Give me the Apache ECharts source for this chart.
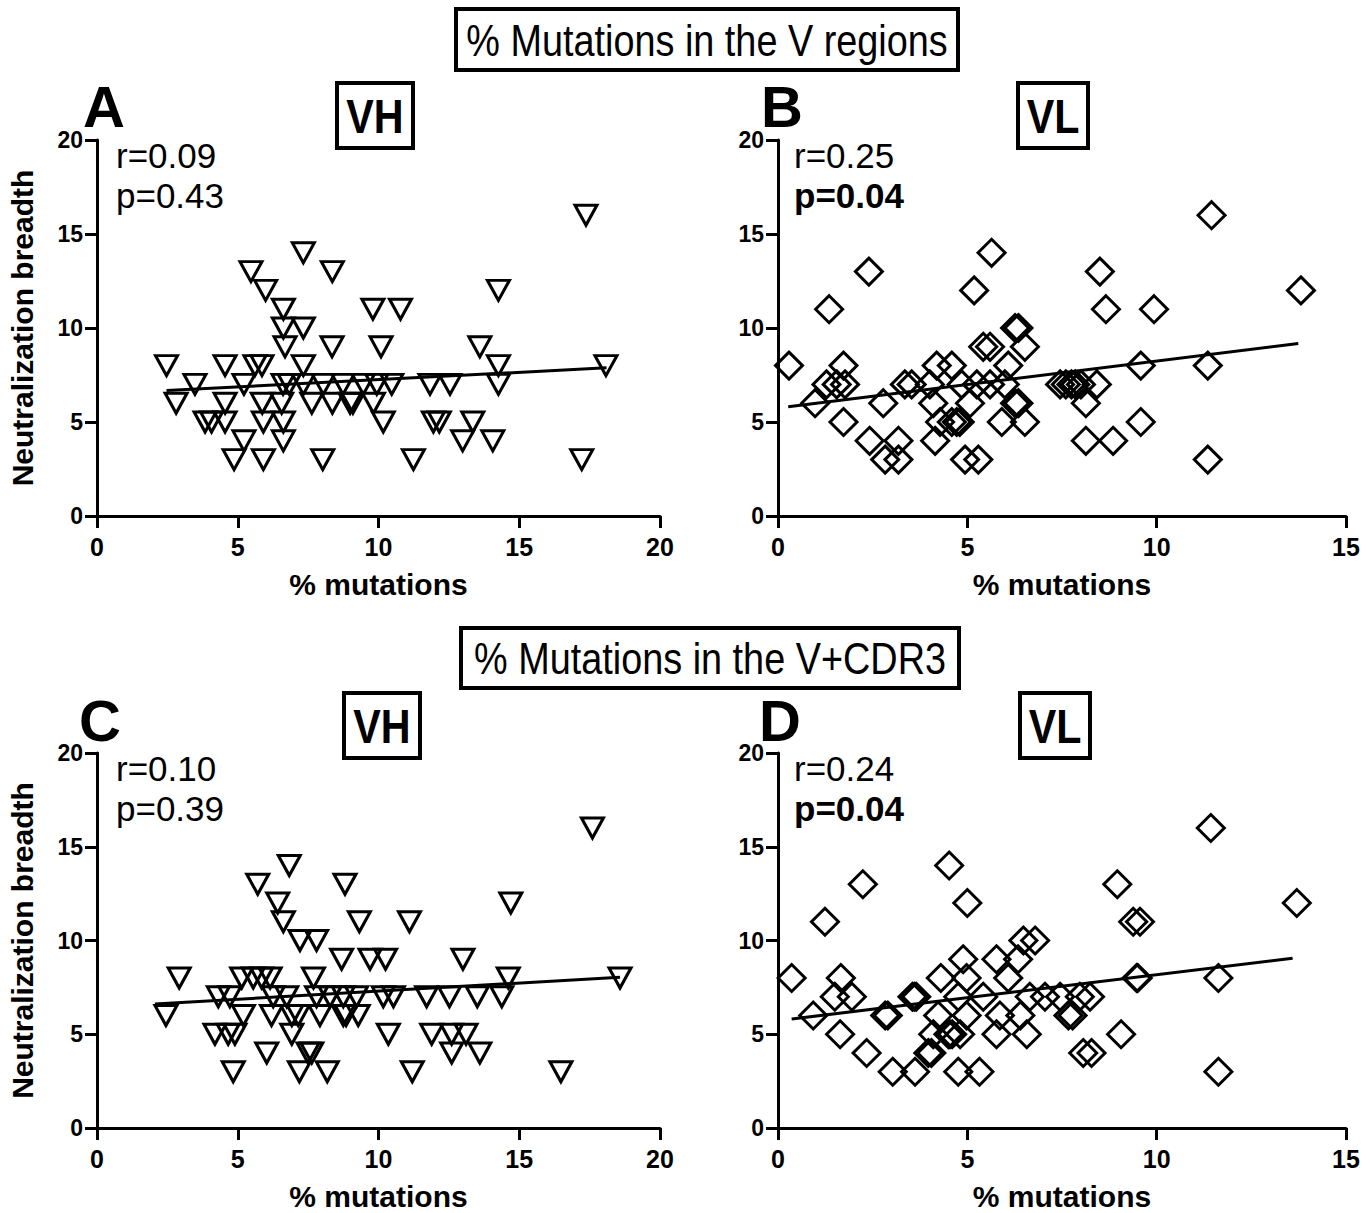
<!DOCTYPE html>
<html>
<head>
<meta charset="utf-8">
<title>% Mutations vs neutralization breadth</title>
<script src="https://cdn.jsdelivr.net/npm/echarts@6/dist/echarts.min.js"></script>
<style>
  html, body { margin: 0; padding: 0; background: #fff; }
  #chart { width: 1371px; height: 1213px; }
</style>
</head>
<body>
<div id="chart"></div>
<script>
// A: VH, V regions
const aX = [17.37, 7.33, 5.47, 8.36, 5.99, 14.26, 6.62, 9.8, 10.78, 6.62, 7.33,
  6.68, 8.35, 10.09, 13.6,
  2.47, 4.55, 5.61, 5.86, 7.33, 14.26, 18.08,
  3.48, 5.22, 6.61, 6.83, 7.33, 8.04, 8.74, 9.46, 9.94, 10.47, 11.83, 12.54, 14.26,
  2.81, 4.55, 5.87, 6.56, 7.63, 8.36, 8.99, 9.09, 9.82,
  3.84, 4.07, 4.55, 5.91, 6.62, 10.17, 11.95, 12.16, 13.35,
  5.22, 6.62, 12.99, 14.06,
  4.87, 5.91, 8.02, 11.24, 17.22]
const aY = [16, 14, 13, 13, 12, 12, 11, 11, 11, 10, 10,
  9, 9, 9, 9,
  8, 8, 8, 8, 8, 8, 8,
  7, 7, 7, 7, 7, 7, 7, 7, 7, 7, 7, 7, 7,
  6, 6, 6, 6, 6, 6, 6, 6, 6,
  5, 5, 5, 5, 5, 5, 5, 5, 5,
  4, 4, 4, 4,
  3, 3, 3, 3, 3]

// B: VL, V regions
const bX = [11.45, 5.64, 2.4, 8.5, 5.18, 13.81, 1.35, 8.66, 9.93, 6.26, 6.35,
  5.42, 5.6, 6.52,
  0.29, 1.73, 4.19, 4.59, 6.08, 9.58, 11.35,
  1.28, 1.55, 1.77, 3.35, 3.53, 4.01, 4.85, 5.25, 5.6, 5.99, 7.45, 7.6, 7.75, 7.85, 8.0, 8.42,
  0.98, 2.78, 4.1, 5.07, 6.26, 6.35, 8.13,
  1.73, 4.28, 4.59, 4.72, 4.8, 5.91, 6.52, 9.58,
  2.42, 3.18, 4.15, 8.13, 8.85,
  2.83, 3.18, 4.94, 5.29, 11.35]
const bY = [16, 14, 13, 13, 12, 12, 11, 11, 11, 10, 10,
  9, 9, 9,
  8, 8, 8, 8, 8, 8, 8,
  7, 7, 7, 7, 7, 7, 7, 7, 7, 7, 7, 7, 7, 7, 7, 7,
  6, 6, 6, 6, 6, 6, 6,
  5, 5, 5, 5, 5, 5, 5, 5,
  4, 4, 4, 4, 4,
  3, 3, 3, 3, 3]

// C: VH, V+CDR3
const cX = [17.6, 6.83, 5.71, 8.81, 6.42, 14.7, 6.62, 9.32, 11.1, 7.21, 7.8,
  8.69, 9.7, 10.25, 13.0,
  2.92, 5.14, 5.55, 5.85, 6.15, 7.69, 14.61, 18.58,
  4.31, 4.72, 6.26, 6.74, 7.8, 8.28, 8.75, 9.22, 10.17, 10.53, 11.71, 12.52, 13.51, 14.38,
  2.45, 5.2, 6.2, 6.92, 7.15, 7.92, 8.75, 8.85, 9.28,
  4.19, 4.66, 4.9, 6.92, 10.35, 11.89, 12.6, 13.11,
  6.03, 7.5, 7.63, 12.6, 13.6,
  4.84, 7.19, 8.18, 11.2, 16.48]
const cY = [16, 14, 13, 13, 12, 12, 11, 11, 11, 10, 10,
  9, 9, 9, 9,
  8, 8, 8, 8, 8, 8, 8, 8,
  7, 7, 7, 7, 7, 7, 7, 7, 7, 7, 7, 7, 7, 7,
  6, 6, 6, 6, 6, 6, 6, 6, 6,
  5, 5, 5, 5, 5, 5, 5, 5,
  4, 4, 4, 4, 4,
  3, 3, 3, 3, 3]

// D: VL, V+CDR3
const dX = [11.43, 4.52, 2.24, 8.96, 5.0, 13.7, 1.24, 9.38, 9.56, 6.48, 6.79,
  4.89, 5.77, 6.34,
  0.36, 1.66, 4.3, 4.98, 6.08, 9.47, 9.5, 11.63,
  1.5, 1.95, 3.55, 3.6, 3.65, 4.76, 5.42, 6.65, 7.05, 7.45, 7.97, 8.24,
  0.93, 2.83, 2.9, 4.23, 4.98, 5.86, 6.4, 7.67, 7.78,
  1.64, 4.1, 4.5, 4.54, 4.6, 4.81, 5.77, 6.57, 9.06,
  2.34, 3.97, 4.05, 8.06, 8.28,
  3.03, 3.62, 4.76, 5.32, 11.63]
const dY = [16, 14, 13, 13, 12, 12, 11, 11, 11, 10, 10,
  9, 9, 9,
  8, 8, 8, 8, 8, 8, 8, 8,
  7, 7, 7, 7, 7, 7, 7, 7, 7, 7, 7, 7,
  6, 6, 6, 6, 6, 6, 6, 6, 6,
  5, 5, 5, 5, 5, 5, 5, 5, 5,
  4, 4, 4, 4, 4,
  3, 3, 3, 3, 3]

// regression line end points
const fitA = [[2.47, 6.67], [18.1, 7.88]]
const fitB = [[0.27, 5.81], [13.74, 9.18]]
const fitC = [[2.06, 6.61], [18.58, 8.04]]
const fitD = [[0.36, 5.81], [13.59, 9.05]]

const xTicksVH = [0, 20]
const xTicksVL = [0, 15]
const yTicks = [0, 20]

const FONT = '"Liberation Sans", Arial, Helvetica, sans-serif'
// the original uses a condensed face, squeeze the free texts a bit
const SQUEEZE = 0.86

function pairs (xs, ys) {
  return xs.map((x, i) => [x, ys[i]])
}

function xAxis (idx, range) {
  return {
    type: 'value',
    gridIndex: idx,
    min: range[0],
    max: range[1],
    interval: 5,
    name: '% mutations',
    nameLocation: 'middle',
    nameGap: 53,
    nameTextStyle: { fontFamily: FONT, fontWeight: 'bold', fontSize: 30, color: '#000' },
    axisLine: { show: true, lineStyle: { color: '#000', width: 3 } },
    axisTick: { show: true, length: 12, lineStyle: { color: '#000', width: 3 } },
    axisLabel: { color: '#000', fontFamily: FONT, fontWeight: 'bold', fontSize: 25, margin: 18 },
    splitLine: { show: false }
  }
}

function yAxis (idx, withName) {
  return {
    type: 'value',
    gridIndex: idx,
    min: yTicks[0],
    max: yTicks[1],
    interval: 5,
    name: withName ? 'Neutralization breadth' : '',
    nameLocation: 'middle',
    nameGap: 60,
    nameTextStyle: { fontFamily: FONT, fontWeight: 'bold', fontSize: 30, color: '#000' },
    axisLine: { show: true, lineStyle: { color: '#000', width: 3 } },
    axisTick: { show: true, length: 12, lineStyle: { color: '#000', width: 3 } },
    axisLabel: { color: '#000', fontFamily: FONT, fontWeight: 'bold', fontSize: 23, margin: 14 },
    splitLine: { show: false }
  }
}

function scatter (idx, data, shape) {
  const tri = shape === 'triangle'
  return {
    type: 'scatter',
    xAxisIndex: idx,
    yAxisIndex: idx,
    data: data,
    symbol: shape,
    symbolSize: tri ? [22, 20] : 27,
    symbolRotate: tri ? 180 : 0,
    itemStyle: { color: 'rgba(0,0,0,0)', borderColor: '#000', borderWidth: 3, opacity: 1 },
    silent: true
  }
}

function fit (idx, data) {
  return {
    type: 'line',
    xAxisIndex: idx,
    yAxisIndex: idx,
    data: data,
    showSymbol: false,
    symbol: 'none',
    lineStyle: { color: '#000', width: 3 },
    silent: true
  }
}

function box (x, y, w, h) {
  return { type: 'rect', shape: { x: x, y: y, width: w, height: h }, style: { fill: '#fff', stroke: '#000', lineWidth: 4 } }
}

function label (x, y, text, size, weight, align, sx) {
  return {
    type: 'text',
    x: x,
    y: y,
    scaleX: sx || 1,
    style: { text: text, fontSize: size, fontFamily: FONT, fontWeight: weight, fill: '#000', align: align || 'center', verticalAlign: 'middle' }
  }
}

function genOption () {
  return {
    backgroundColor: '#fff',
    animation: false,
    grid: [
      { left: 97, top: 140, width: 563, height: 376 },
      { left: 778, top: 140, width: 568, height: 376 },
      { left: 97, top: 753, width: 563, height: 375 },
      { left: 778, top: 753, width: 568, height: 375 }
    ],
    xAxis: [xAxis(0, xTicksVH), xAxis(1, xTicksVL), xAxis(2, xTicksVH), xAxis(3, xTicksVL)],
    yAxis: [yAxis(0, true), yAxis(1, false), yAxis(2, true), yAxis(3, false)],
    series: [
      scatter(0, pairs(aX, aY), 'triangle'),
      scatter(1, pairs(bX, bY), 'diamond'),
      scatter(2, pairs(cX, cY), 'triangle'),
      scatter(3, pairs(dX, dY), 'diamond'),
      fit(0, fitA),
      fit(1, fitB),
      fit(2, fitC),
      fit(3, fitD)
    ],
    graphic: [
      box(456, 9, 502, 61),
      label(707, 41, '% Mutations in the V regions', 44, 'normal', 'center', SQUEEZE),
      box(461, 628, 498, 60),
      label(710, 659, '% Mutations in the V+CDR3', 44, 'normal', 'center', SQUEEZE),

      box(337, 83, 76, 65),
      label(375, 116, 'VH', 48, 'bold', 'center', SQUEEZE),
      box(1018, 83, 70, 65),
      label(1053, 116, 'VL', 48, 'bold', 'center', SQUEEZE),
      box(344, 693, 76, 65),
      label(382, 726, 'VH', 48, 'bold', 'center', SQUEEZE),
      box(1020, 693, 70, 65),
      label(1055, 726, 'VL', 48, 'bold', 'center', SQUEEZE),

      label(104, 106, 'A', 58, 'bold'),
      label(782, 106, 'B', 58, 'bold'),
      label(100, 720, 'C', 58, 'bold'),
      label(780, 720, 'D', 58, 'bold'),

      label(116, 155, 'r=0.09', 35, 'normal', 'left'),
      label(116, 195, 'p=0.43', 35, 'normal', 'left'),
      label(794, 155, 'r=0.25', 35, 'normal', 'left'),
      label(794, 195, 'p=0.04', 35, 'bold', 'left'),
      label(116, 768, 'r=0.10', 35, 'normal', 'left'),
      label(116, 808, 'p=0.39', 35, 'normal', 'left'),
      label(794, 768, 'r=0.24', 35, 'normal', 'left'),
      label(794, 808, 'p=0.04', 35, 'bold', 'left')
    ]
  }
}

const chart = echarts.init(document.getElementById('chart'), null, { renderer: 'svg' })
chart.setOption(genOption())
</script>
</body>
</html>
